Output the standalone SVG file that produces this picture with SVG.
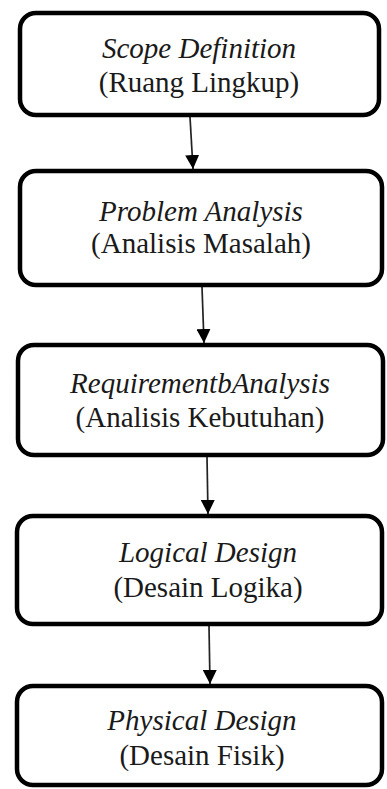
<svg xmlns="http://www.w3.org/2000/svg" width="387" height="789" viewBox="0 0 387 789">
<defs>
<style>
.box{fill:#fff;stroke:#000;stroke-width:4.5}
.t1{font-family:"Liberation Serif","Times New Roman",serif;font-size:29px;font-style:italic;fill:#1a1a1a;text-anchor:middle}
.t2{font-family:"Liberation Serif","Times New Roman",serif;font-size:29px;fill:#1a1a1a;text-anchor:middle}
.con{stroke:#222;stroke-width:1.7;fill:none}
</style>
<marker id="ah" viewBox="0 0 14 14" refX="14" refY="7" markerWidth="14" markerHeight="14" markerUnits="userSpaceOnUse" orient="auto">
<path d="M0,0 L14,7 L0,14 Z" fill="#000"/>
</marker>
</defs>
<rect width="387" height="789" fill="#fff"/>
<g id="connectors">
<line class="con" x1="190" y1="117" x2="193" y2="169" marker-end="url(#ah)"/>
<line class="con" x1="202" y1="287" x2="204" y2="343" marker-end="url(#ah)"/>
<line class="con" x1="207" y1="457" x2="208" y2="514" marker-end="url(#ah)"/>
<line class="con" x1="209" y1="626" x2="210" y2="684" marker-end="url(#ah)"/>
</g>
<g id="scope">
<rect class="box" x="20" y="13" width="359" height="102" rx="16"/>
<text class="t1" x="199" y="58">Scope Definition</text>
<text class="t2" x="199" y="92">(Ruang Lingkup)</text>
</g>
<g id="problem">
<rect class="box" x="20" y="171" width="362" height="114" rx="16"/>
<text class="t1" x="201" y="221">Problem Analysis</text>
<text class="t2" x="201" y="253">(Analisis Masalah)</text>
</g>
<g id="requirement">
<rect class="box" x="18" y="345" width="365" height="110" rx="16"/>
<text class="t1" x="200" y="393">RequirementbAnalysis</text>
<text class="t2" x="200" y="427">(Analisis Kebutuhan)</text>
</g>
<g id="logical">
<rect class="box" x="17" y="516" width="365" height="108" rx="16"/>
<text class="t1" x="208" y="562">Logical Design</text>
<text class="t2" x="208" y="597">(Desain Logika)</text>
</g>
<g id="physical">
<rect class="box" x="17" y="686" width="365" height="99" rx="16"/>
<text class="t1" x="202" y="730">Physical Design</text>
<text class="t2" x="202" y="765">(Desain Fisik)</text>
</g>
</svg>
